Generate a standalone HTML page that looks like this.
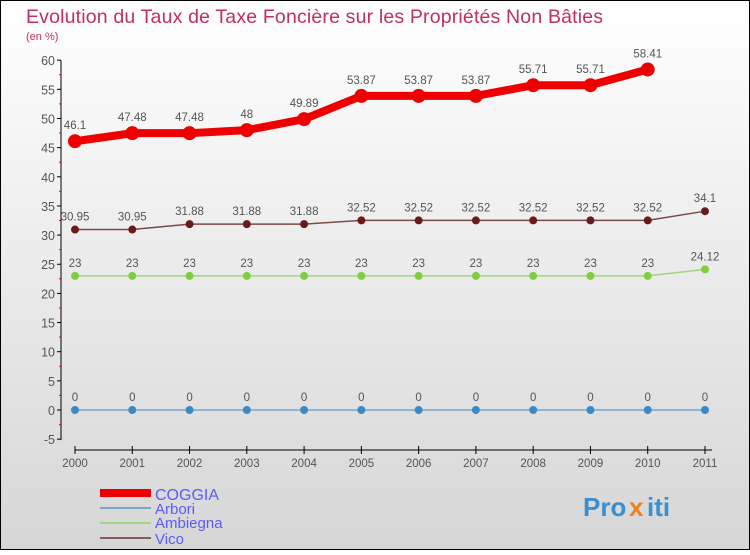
<!DOCTYPE html>
<html><head><meta charset="utf-8"><style>
body{margin:0}
#c{width:750px;height:550px;position:relative;font-family:"Liberation Sans",sans-serif}
</style></head><body>
<div id="c">
<svg id="s" width="750" height="550" xmlns="http://www.w3.org/2000/svg">
<defs><linearGradient id="bg" x1="0" y1="0" x2="0" y2="1"><stop offset="0" stop-color="#ffffff"/><stop offset="1" stop-color="#d6d6d6"/></linearGradient></defs>
<rect x="0.5" y="0.5" width="749" height="549" fill="url(#bg)" stroke="#000"/>
<text x="26" y="23" font-size="19.5" fill="#c0305a" textLength="577">Evolution du Taux de Taxe Foncière sur les Propriétés Non Bâties</text>
<text x="26" y="40" font-size="11" fill="#c0305a">(en %)</text>
<g id="axes"></g><g id="series"></g>
<g>
<rect x="100" y="489" width="51" height="8" fill="#e00"/>
<text x="155" y="500" font-size="16" fill="#5a5aff">COGGIA</text>
<line x1="100" y1="508" x2="151" y2="508" stroke="#7aa6c8" stroke-width="2"/>
<text x="155" y="514" font-size="15" fill="#5a5aff">Arbori</text>
<line x1="100" y1="523" x2="151" y2="523" stroke="#9fd77f" stroke-width="2"/>
<text x="155" y="528" font-size="15" fill="#5a5aff">Ambiegna</text>
<line x1="100" y1="538" x2="151" y2="538" stroke="#8a5a5a" stroke-width="2"/>
<text x="155" y="544" font-size="15" fill="#5a5aff">Vico</text>
</g>
<g font-size="26" font-weight="bold">
<text x="583" y="516" fill="#3a8fd0">Pro</text><text x="629" y="516" fill="#f08020">x</text><text x="647" y="516" fill="#3a8fd0">iti</text>
</g>
</svg></div>
<script>
const years=["2000","2001","2002","2003","2004","2005","2006","2007","2008","2009","2010","2011"];
const yTicks=[-5,0,5,10,15,20,25,30,35,40,45,50,55,60];
const coggia=[46.1,47.48,47.48,48,49.89,53.87,53.87,53.87,55.71,55.71,58.41,null];
const arbori=[0,0,0,0,0,0,0,0,0,0,0,0];
const ambiegna=[23,23,23,23,23,23,23,23,23,23,23,24.12];
const vico=[30.95,30.95,31.88,31.88,31.88,32.52,32.52,32.52,32.52,32.52,32.52,34.1];
const NS="http://www.w3.org/2000/svg";
function X(i){return 75+i*(705-75)/11;}
function Y(v){return 410-v*(440-410)/5*0.9717;}
function mk(t,a,p){const e=document.createElementNS(NS,t);for(const k in a)e.setAttribute(k,a[k]);p.appendChild(e);return e;}
const ax=document.getElementById('axes');
mk('line',{x1:61,y1:Y(60),x2:61,y2:Y(-5)+1,stroke:'#000'},ax);
mk('line',{x1:75,y1:450,x2:712,y2:450,stroke:'#000'},ax);
yTicks.forEach(v=>{
 mk('line',{x1:57,y1:Y(v),x2:61,y2:Y(v),stroke:'#000'},ax);
 if(v<60)mk('line',{x1:59,y1:Y(v+2.5),x2:61,y2:Y(v+2.5),stroke:'#e00'},ax);
 const t=mk('text',{x:55,y:Y(v)+5,'text-anchor':'end','font-size':12.5,fill:'#555'},ax);t.textContent=v;
 
 
});
years.forEach((y,i)=>{
 mk('line',{x1:X(i),y1:446,x2:X(i),y2:454,stroke:'#000'},ax);
 const t=mk('text',{x:X(i),y:467,'text-anchor':'middle','font-size':11.5,fill:'#555'},ax);t.textContent=y;
 
 
});
const sg=document.getElementById('series');
function draw(vals,color,w,r,dot,name){
 const g=mk('g',{},sg);
 
 
 const pts=[];vals.forEach((v,i)=>{if(v!==null)pts.push([X(i),Y(v),v]);});
 mk('polyline',{points:pts.map(p=>p[0]+','+p[1]).join(' '),fill:'none',stroke:color,'stroke-width':w,'stroke-linejoin':'round'},g);
 pts.forEach(p=>{
  const c=mk('circle',{cx:p[0],cy:p[1],r:r,fill:dot},g);
  
  
  const t=mk('text',{x:p[0],y:p[1]-9-(r>5?3:0),'text-anchor':'middle','font-size':11.5,fill:'#555'},g);t.textContent=p[2];
  
  
 });
}
draw(arbori,'#7aa6c8',1.5,4,'#3a8ac8','arbori');
draw(ambiegna,'#9fd77f',1.5,4,'#7cd040','ambiegna');
draw(vico,'#7a4a4a',1.5,4,'#6a1a1a','vico');
draw(coggia,'#ee0000',8,7,'#ee0000','coggia');
</script>
</body></html>
